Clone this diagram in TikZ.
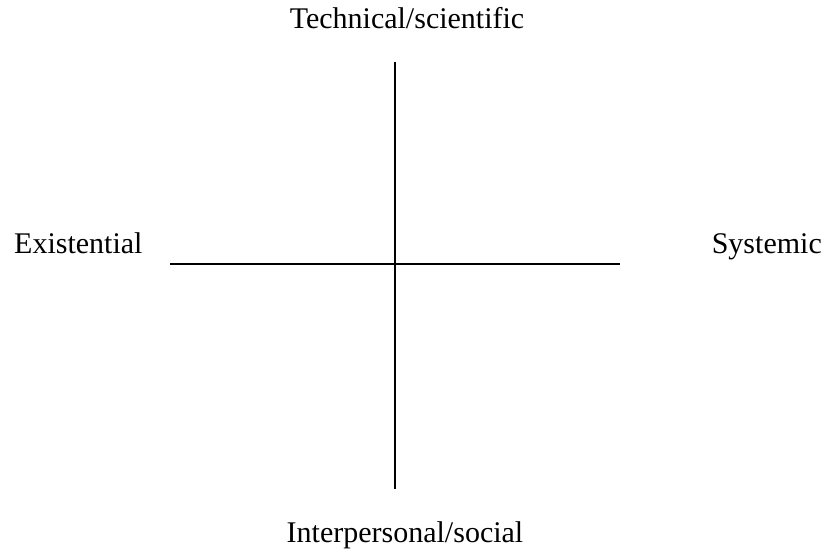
\documentclass[tikz,border=0pt]{standalone}
\usepackage{fontspec}
\setmainfont{Liberation Serif}
\begin{document}
\begin{tikzpicture}[x=1pt,y=-1pt,
  lbl/.style={inner sep=0pt,font=\fontsize{30}{35}\selectfont},
  axis/.style={line width=1.3pt,black}]
\useasboundingbox (0,0) rectangle (825,556);
\coordinate (vt) at (395,62);
\coordinate (vb) at (395,489);
\coordinate (hl) at (170,264);
\coordinate (hr) at (620,264);
\draw[axis] (vt) -- (vb);
\draw[axis] (hl) -- (hr);
\node[lbl,anchor=base] (tech) at (407,29) {Technical/scientific};
\node[lbl,anchor=base] (inter) at (405,542) {Interpersonal/social};
\node[lbl,anchor=base west] (exist) at (14,254) {Existential};
\node[lbl,anchor=base east] (sys) at (822,254) {Systemic};
\end{tikzpicture}
\end{document}
